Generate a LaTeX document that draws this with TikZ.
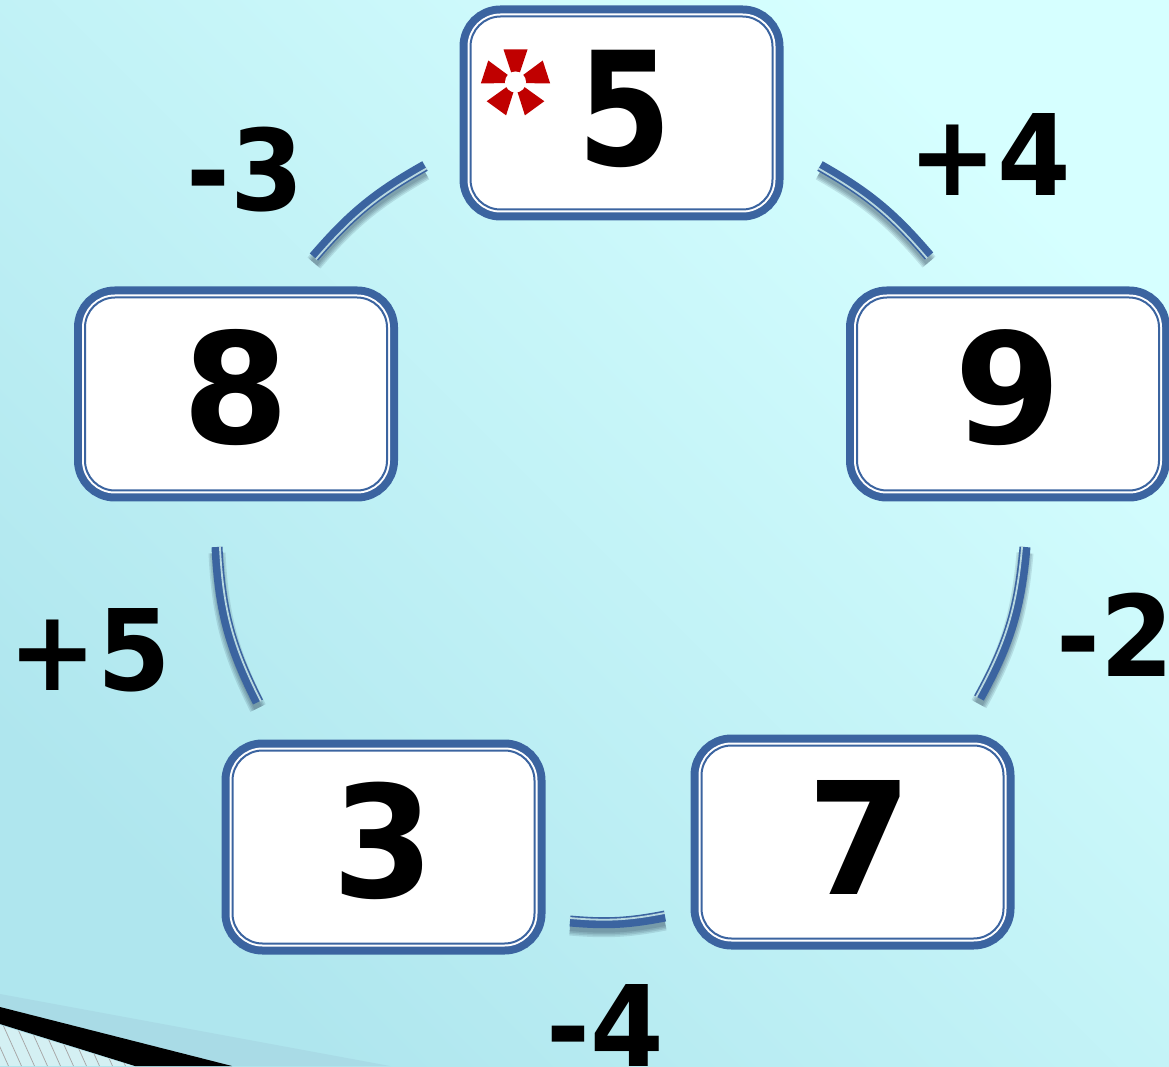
\documentclass[tikz,border=0pt]{standalone}
\usepackage{fontspec}
\setmainfont{DejaVu Sans}
\usetikzlibrary{positioning}
\definecolor{boxblue}{RGB}{59,100,160}
\definecolor{stripe}{RGB}{184,216,224}
\definecolor{bgdark}{RGB}{175,230,238}
\definecolor{bgmid}{RGB}{207,250,252}
\definecolor{bglight}{RGB}{214,255,255}
\definecolor{bandblue}{RGB}{169,219,230}
\definecolor{hatchbg}{RGB}{212,240,243}
\definecolor{starred}{RGB}{192,0,0}
\newcommand{\numfont}[2]{\fontsize{#1}{#1}\bfseries\selectfont\addfontfeature{FakeStretch=#2}}
\tikzstyle{numbox} = [rectangle, draw=boxblue, fill=white, line width=.04cm, rounded corners=.6cm,
  minimum width=6.04cm, minimum height=3.86cm, inner sep=0pt, outer sep=0pt, text depth=.2cm,
  preaction={draw=boxblue, line width=.44cm}, preaction={draw=white, line width=.12cm}]
\tikzstyle{diff} = [inner sep=0pt, font=\numfont{64}{.94}]

\begin{document}
\begin{tikzpicture}[on grid]
  \useasboundingbox (0,0) rectangle (23.38,21.32);
  \shade[bottom color=bgdark, middle color=bgmid, top color=bglight, shading angle=-45] (0,0) rectangle (23.38,21.32);

  % corner of the slide
  \fill[bandblue] (0,1.44) -- (7.8,0) -- (0,0) -- cycle;
  \fill[black] (0,1.18) -- (4.64,0) -- (2.7,0) -- (0,.84) -- cycle;
  \begin{scope}
    \clip (0,.82) -- (2.66,0) -- (0,0) -- cycle;
    \fill[hatchbg] (0,0) rectangle (2.7,.9);
    \foreach \x in {-.8,-.54,...,2.6}
      \draw[gray!70, line width=.015cm] (\x,1) -- (\x+.45,0);
  \end{scope}

  \node[numbox, font=\numfont{90}{.86}] (n5) at (12.43,19.06) {\hspace{.14cm}5};
  \node[numbox, text depth=.3cm, font=\numfont{87.5}{1}] (n8) [below left=5.62cm and 7.71cm of n5] {8};
  \node[numbox, text depth=.3cm, font=\numfont{87.5}{1}] (n9) [below right=5.62cm and 7.73cm of n5] {9};
  \node[numbox, text depth=.28cm, font=\numfont{88.5}{.94}] (n3) [below right=9.06cm and 2.95cm of n8] {3};
  \node[numbox, font=\numfont{89}{.96}] (n7) [below left=8.96cm and 3.11cm of n9] {\hspace{.28cm}7};

  \node[diff] (d3) [above=4.48cm of n8, xshift=.18cm] {-3};
  \node[diff] (d4) [above=4.78cm of n9, xshift=-.36cm] {+4};
  \node[diff] (d5) [below=5.12cm of n8, xshift=-2.92cm] {+5};
  \node[diff] (d2) [below=4.82cm of n9, xshift=2.14cm] {-2};
  \node[diff] (d1) [below=3.56cm of n3, xshift=4.43cm] {-4};

  % the red star in the first box
  \coordinate (star) at ([xshift=-2.12cm, yshift=.62cm]n5.center);
  \foreach \a in {90,162,...,378}
    \fill[starred, rotate around={\a-90:(star)}] ([xshift=-.07cm, yshift=.14cm]star) -- ([xshift=-.24cm, yshift=.65cm]star)
      -- ([xshift=.24cm, yshift=.65cm]star) -- ([xshift=.07cm, yshift=.14cm]star) -- cycle;
  \fill[white] (star) circle (.21cm);

  \coordinate (c58a) at (8.5,18);
  \coordinate (c58b) at (6.28,16.18);
  \coordinate (c59a) at (16.4,18);
  \coordinate (c59b) at (18.58,16.2);
  \coordinate (c83a) at (4.34,10.38);
  \coordinate (c83b) at (5.16,7.28);
  \coordinate (c97a) at (20.5,10.38);
  \coordinate (c97b) at (19.58,7.36);
  \coordinate (c37a) at (11.4,2.9);
  \coordinate (c37b) at (13.3,3);

  \foreach \from/\to/\ang/\sx/\sy in {c58a/c58b/-10/.038/-.046, c59a/c59b/10/-.038/-.046,
      c83a/c83b/-12/.058/.015, c97a/c97b/12/-.057/.018, c37a/c37b/-8/-.004/.06} {
    \foreach \w in {.34,.28,.22,.16}
      \draw[black!60!boxblue, opacity=.12, line width=\w cm]
        ([yshift=-.12cm]\from) to[bend left=\ang] ([yshift=-.12cm]\to);
    \draw[boxblue, line width=.22cm] (\from) to[bend left=\ang] (\to);
    \draw[stripe, line width=.036cm]
      ([xshift=\sx cm, yshift=\sy cm]\from) to[bend left=\ang] ([xshift=\sx cm, yshift=\sy cm]\to);
  }
\end{tikzpicture}
\end{document}
